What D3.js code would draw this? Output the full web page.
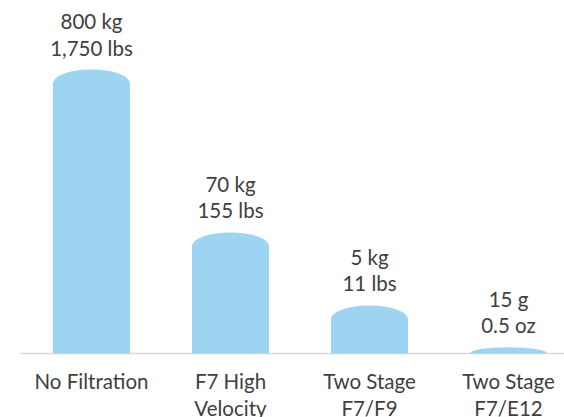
<!DOCTYPE html>
<html>
<head>
<meta charset="utf-8">
<script src="https://cdn.jsdelivr.net/npm/d3@7"></script>
<style>
  html, body { margin: 0; padding: 0; background: #ffffff; }
  svg { display: block; }
  text { font-family: Lato, "Open Sans", sans-serif; fill: #404040; }
</style>
</head>
<body>
<svg id="chart" width="564" height="417"></svg>
<script>
// Dust collected per filtration setup
const categories = ["No Filtration", "F7 High Velocity", "Two Stage F7/F9", "Two Stage F7/E12"];
const categoryLines = [["No Filtration"], ["F7 High", "Velocity"], ["Two Stage", "F7/F9"], ["Two Stage", "F7/E12"]];
const valuesKg = [800, 70, 5, 0.015];
const labelMetric = ["800 kg", "70 kg", "5 kg", "15 g"];
const labelImperial = ["1,750 lbs", "155 lbs", "11 lbs", "0.5 oz"];

const svg = d3.select("#chart");
const baseY = 353.5;
const topY = 69.5;
const capH = 14;
const fontSize = 20.5;

const x = d3.scaleBand()
  .domain(categories)
  .range([22, 578])
  .paddingInner(0.446)
  .paddingOuter(0.223);

// compressed vertical scale so the small amounts stay visible
const y = d3.scalePow()
  .exponent(0.35)
  .domain([0, d3.max(valuesKg)])
  .range([baseY, topY]);

const data = categories.map((c, i) => ({
  cat: c, lines: categoryLines[i], v: valuesKg[i],
  metric: labelMetric[i], imperial: labelImperial[i]
}));

// baseline
svg.append("line")
  .attr("x1", 20).attr("x2", 564)
  .attr("y1", baseY).attr("y2", baseY)
  .attr("stroke", "#d9d9d9").attr("stroke-width", 1.5);

// bars with rounded (elliptical) tops
function barPath(d) {
  const x0 = x(d.cat), x1 = x0 + x.bandwidth();
  const top = y(d.v);
  const h = baseY - top;
  const c = Math.min(capH, h);
  const shoulder = top + c;
  return `M${x0},${baseY} L${x0},${shoulder} A${x.bandwidth() / 2},${c} 0 0 1 ${x1},${shoulder} L${x1},${baseY} Z`;
}

svg.append("g").selectAll("path")
  .data(data)
  .join("path")
  .attr("d", barPath)
  .attr("fill", "#9dd4f2");

// value labels above each bar
const vl = svg.append("g").selectAll("text")
  .data(data)
  .join("text")
  .attr("text-anchor", "middle")
  .attr("font-size", fontSize)
  .attr("x", d => x(d.cat) + x.bandwidth() / 2)
  .attr("y", d => y(d.v) - 14);
vl.append("tspan")
  .attr("x", d => x(d.cat) + x.bandwidth() / 2)
  .attr("dy", -26.5)
  .text(d => d.metric);
vl.append("tspan")
  .attr("x", d => x(d.cat) + x.bandwidth() / 2)
  .attr("dy", 26.5)
  .text(d => d.imperial);

// category labels
const cl = svg.append("g").selectAll("text")
  .data(data)
  .join("text")
  .attr("text-anchor", "middle")
  .attr("font-size", fontSize)
  .attr("y", baseY + 35);
cl.selectAll("tspan")
  .data(d => d.lines.map((t, j) => ({ t, j, cx: x(d.cat) + x.bandwidth() / 2 })))
  .join("tspan")
  .attr("x", d => d.cx)
  .attr("dy", d => d.j === 0 ? 0 : 27.4)
  .text(d => d.t);
</script>
</body>
</html>
